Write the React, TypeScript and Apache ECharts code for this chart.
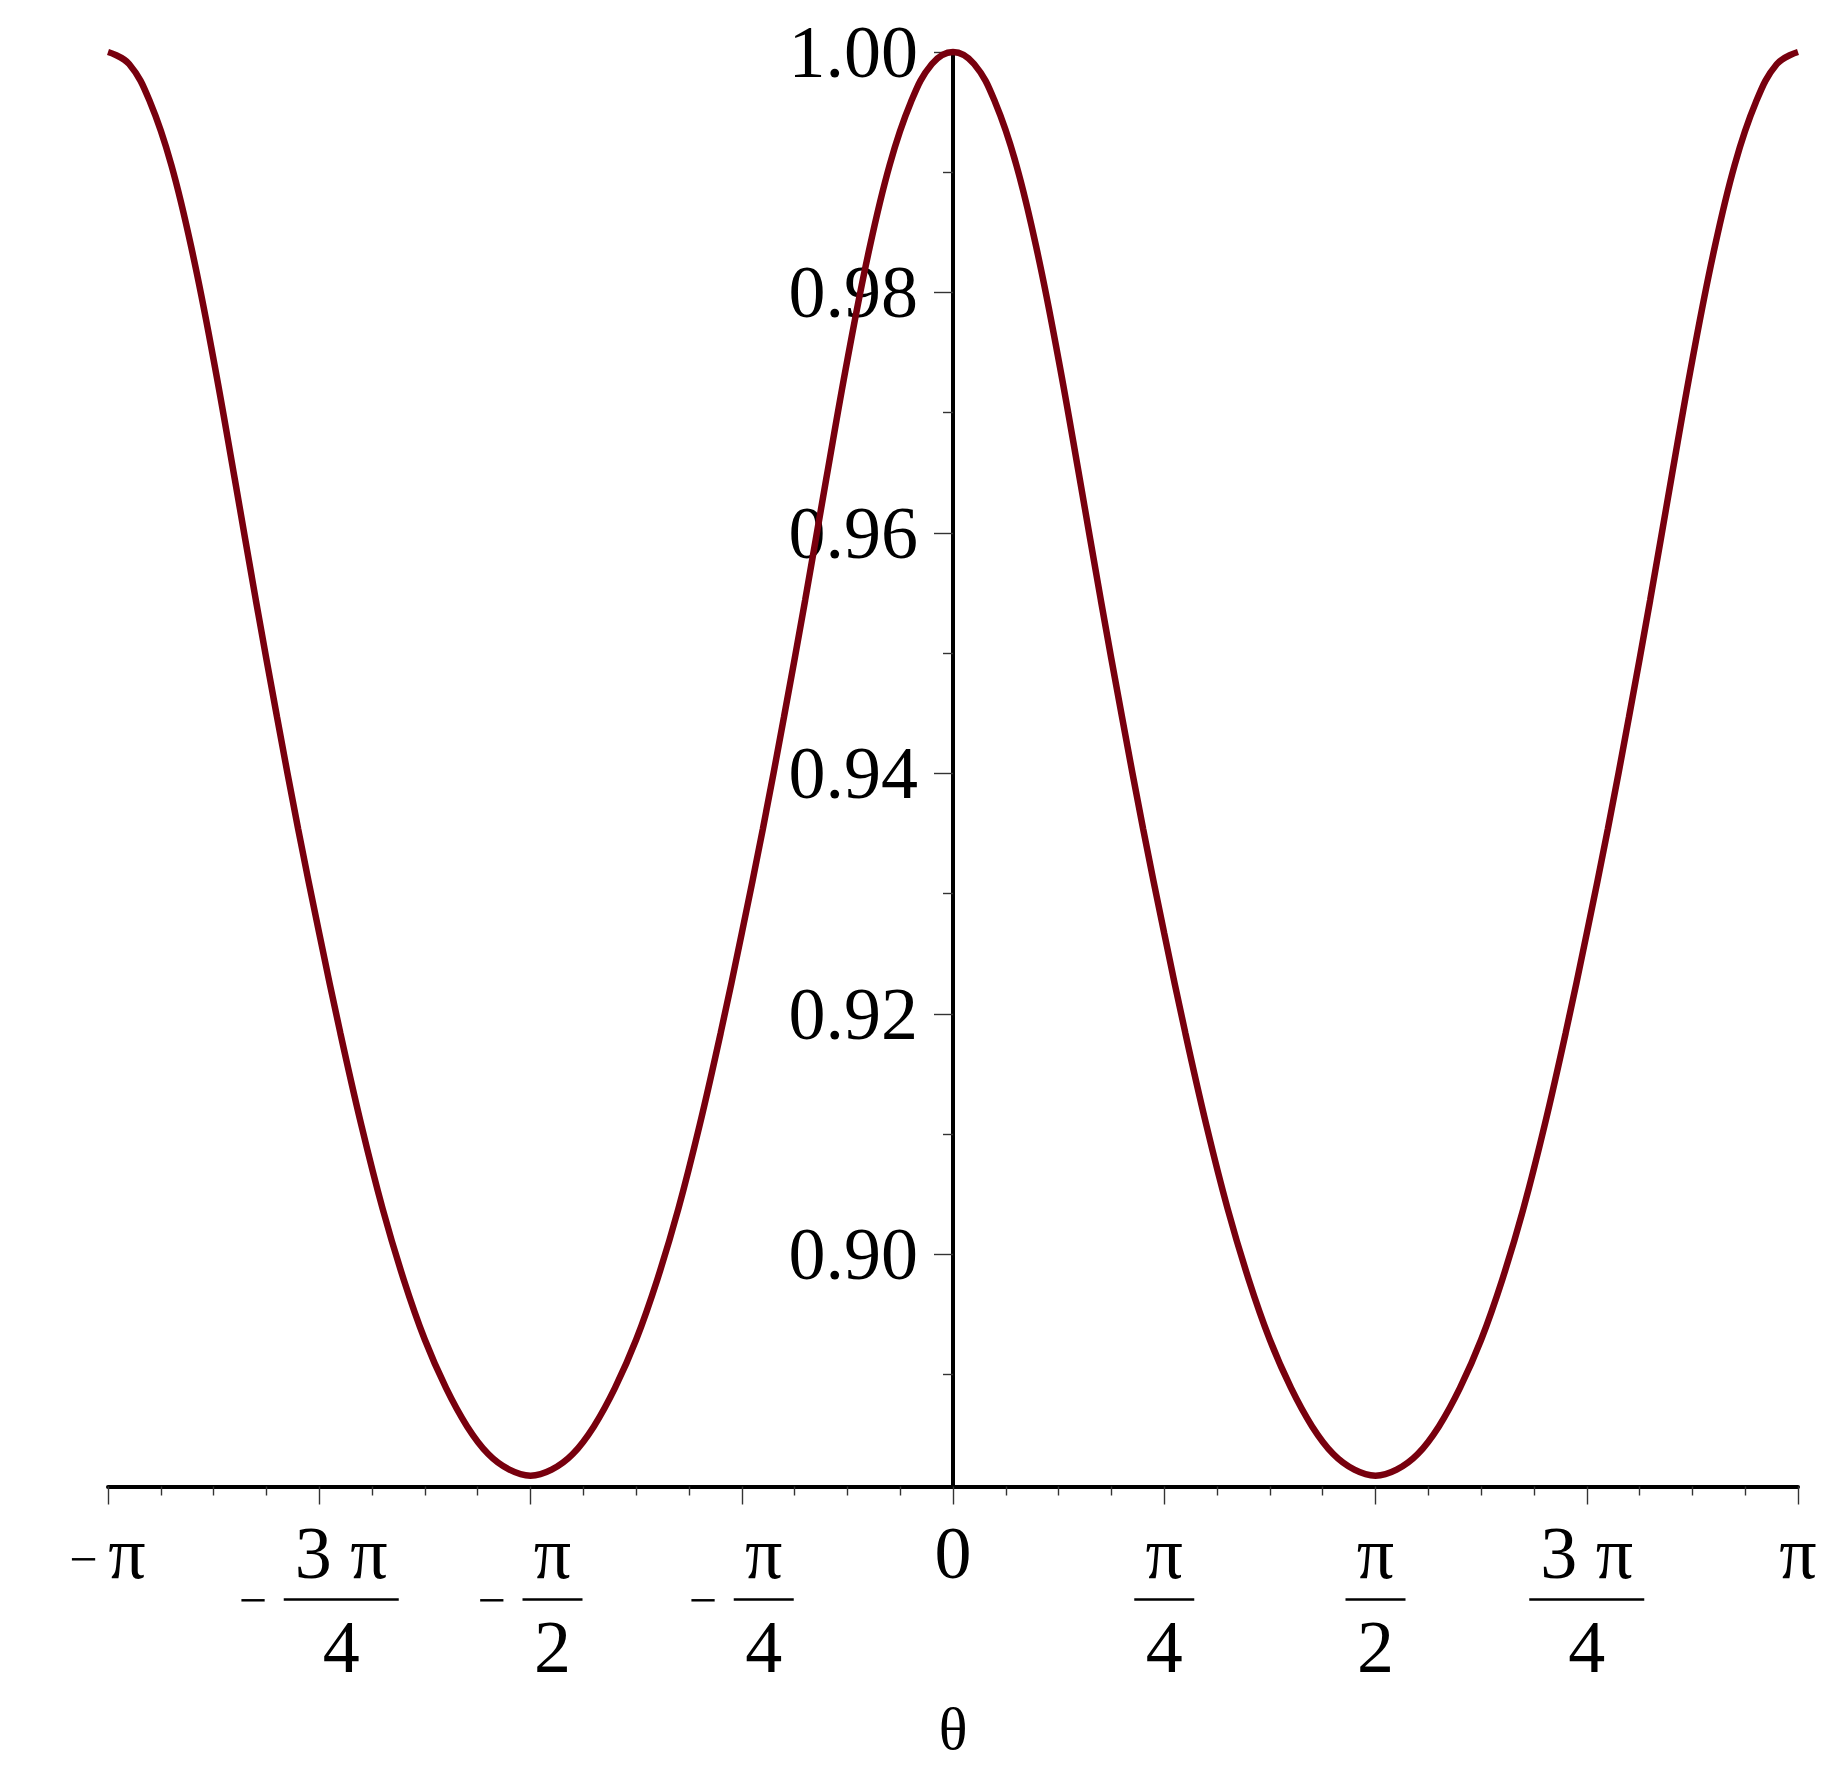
import React, { useEffect, useRef } from 'react';
import * as echarts from 'echarts';

const thetaOverPi = [
  -1, -0.975, -0.95, -0.925, -0.9, -0.875, -0.85, -0.825, -0.8, -0.775,
  -0.75, -0.725, -0.7, -0.675, -0.65, -0.625, -0.6, -0.575, -0.55, -0.525, -0.5,
  -0.475, -0.45, -0.425, -0.4, -0.375, -0.35, -0.325, -0.3, -0.275, -0.25,
  -0.225, -0.2, -0.175, -0.15, -0.125, -0.1, -0.075, -0.05, -0.025, 0,
  0.025, 0.05, 0.075, 0.1, 0.125, 0.15, 0.175, 0.2, 0.225, 0.25,
  0.275, 0.3, 0.325, 0.35, 0.375, 0.4, 0.425, 0.45, 0.475, 0.5,
  0.525, 0.55, 0.575, 0.6, 0.625, 0.65, 0.675, 0.7, 0.725, 0.75,
  0.775, 0.8, 0.825, 0.85, 0.875, 0.9, 0.925, 0.95, 0.975, 1,
];

// curve values read at those θ
const curveValues = [
  1.0, 0.999, 0.9958, 0.9906, 0.9833, 0.9744, 0.9645, 0.9544, 0.9447, 0.9354,
  0.9267, 0.9184, 0.9107, 0.9038, 0.8979, 0.8929, 0.8889, 0.8857, 0.8834, 0.8821, 0.8816,
  0.8821, 0.8834, 0.8857, 0.8889, 0.8929, 0.8979, 0.9038, 0.9107, 0.9184, 0.9267,
  0.9354, 0.9447, 0.9544, 0.9645, 0.9744, 0.9833, 0.9906, 0.9958, 0.999, 1.0,
  0.999, 0.9958, 0.9906, 0.9833, 0.9744, 0.9645, 0.9544, 0.9447, 0.9354, 0.9267,
  0.9184, 0.9107, 0.9038, 0.8979, 0.8929, 0.8889, 0.8857, 0.8834, 0.8821, 0.8816,
  0.8821, 0.8834, 0.8857, 0.8889, 0.8929, 0.8979, 0.9038, 0.9107, 0.9184, 0.9267,
  0.9354, 0.9447, 0.9544, 0.9645, 0.9744, 0.9833, 0.9906, 0.9958, 0.999, 1.0,
];

// x tick labels (value in units of π)
const xTickValues = [-1, -0.75, -0.5, -0.25, 0, 0.25, 0.5, 0.75, 1];
const xTickSign = ['−', '−', '−', '−', '', '', '', '', ''];
const xTickNumerator = ['π', '3 π', 'π', 'π', '0', 'π', 'π', '3 π', 'π'];
const xTickDenominator = ['', '4', '2', '4', '', '4', '2', '4', ''];

// y ticks
const yLabelValues = [0.9, 0.92, 0.94, 0.96, 0.98, 1.0];
const yMinorValues = [0.89, 0.91, 0.93, 0.95, 0.97, 0.99];
const yMin = 0.8807;
const yMax = 1.0;

const FONT = '"Liberation Serif", "Times New Roman", serif';
const CURVE_COLOR = '#78000E';

// grid edges (px)
const GRID_LEFT = 108;
const GRID_RIGHT = 50;
const CHART_W = 1848;
const CHART_H = 1768;
// pixel distance from the grid's left edge to θ = 0
const Y_AXIS_SHIFT = (CHART_W - GRID_LEFT - GRID_RIGHT) / 2;

function xLabel(v: number): string {
  const i = xTickValues.findIndex((t) => Math.abs(t - v) < 1e-6);
  if (i < 0) return '';
  const sign = xTickSign[i];
  const num = xTickNumerator[i];
  const den = xTickDenominator[i];
  if (!den) {
    return (sign ? '{mi1|' + sign + '}{sg|}' : '') + '{txt|' + num + '}';
  }
  const w = num.length > 1 ? 'W' : 'N';
  const lead = sign ? '{pad|}' : '';
  return (
    lead + '{num' + w + '|' + num + '}\n' +
    (sign ? '{mi|' + sign + '}{gap|}' : '') + '{bar' + w + '|}\n' +
    lead + '{den' + w + '|' + den + '}'
  );
}

export default function App() {
  const ref = useRef<HTMLDivElement>(null);

  useEffect(() => {
    if (!ref.current) return;
    const chart = echarts.init(ref.current, null, { renderer: 'svg' });
    const tickStyle = { color: '#333', width: 1.4 };
    const textBase = { fontFamily: FONT, color: '#000' };
    chart.setOption({
      animation: false,
      backgroundColor: '#fff',
      grid: {
        left: GRID_LEFT,
        right: GRID_RIGHT,
        top: 52,
        bottom: 281.5,
        containLabel: false,
        outerBoundsMode: 'none',
      },
      xAxis: {
        type: 'value',
        min: -1,
        max: 1,
        interval: 0.25,
        name: 'θ',
        nameLocation: 'middle',
        nameGap: 212,
        nameTextStyle: { ...textBase, fontSize: 60, lineHeight: 60 },
        axisLine: { show: true, onZero: false, lineStyle: { color: '#000', width: 4 } },
        axisTick: { show: true, length: 18, lineStyle: tickStyle },
        minorTick: { show: true, splitNumber: 4, length: 9, lineStyle: tickStyle },
        splitLine: { show: false },
        minorSplitLine: { show: false },
        axisLabel: {
          show: true,
          margin: 36,
          showMinLabel: true,
          showMaxLabel: true,
          formatter: (v: number) => xLabel(v),
          ...textBase,
          fontSize: 74,
          rich: {
            txt: { ...textBase, fontSize: 74, lineHeight: 60 },
            mi1: { ...textBase, fontSize: 50, lineHeight: 34, width: 26, align: 'center', padding: [12, 0, 0, 0] },
            mi: { ...textBase, fontSize: 50, lineHeight: 34, width: 26, align: 'center' },
            sg: { width: 12, lineHeight: 34 },
            pad: { width: 44, lineHeight: 34 },
            gap: { width: 18, lineHeight: 34 },
            numW: { ...textBase, fontSize: 74, lineHeight: 60, width: 115, align: 'center' },
            numN: { ...textBase, fontSize: 74, lineHeight: 60, width: 60, align: 'center' },
            denW: { ...textBase, fontSize: 74, lineHeight: 60, width: 115, align: 'center' },
            denN: { ...textBase, fontSize: 74, lineHeight: 60, width: 60, align: 'center' },
            barW: { width: 115, height: 2.5, lineHeight: 34, backgroundColor: '#000' },
            barN: { width: 60, height: 2.5, lineHeight: 34, backgroundColor: '#000' },
          },
        },
      },
      yAxis: [
        {
          type: 'value',
          min: yMin,
          max: yMax,
          position: 'left',
          offset: -Y_AXIS_SHIFT,
          axisLine: { show: true, onZero: false, lineStyle: { color: '#000', width: 4 } },
          axisTick: { show: true, length: 19, lineStyle: tickStyle, customValues: yLabelValues },
          splitLine: { show: false },
          axisLabel: {
            show: true,
            margin: 35,
            customValues: yLabelValues,
            formatter: (v: number) => v.toFixed(2),
            ...textBase,
            fontSize: 74,
          },
        },
        {
          type: 'value',
          min: yMin,
          max: yMax,
          position: 'right',
          offset: -Y_AXIS_SHIFT,
          axisLine: { show: false, onZero: false },
          axisTick: { show: true, inside: true, length: 10, lineStyle: tickStyle, customValues: yMinorValues },
          splitLine: { show: false },
          axisLabel: { show: false },
        },
      ],
      series: [
        {
          type: 'line',
          xAxisIndex: 0,
          yAxisIndex: 0,
          data: thetaOverPi.map((t, i) => [t, curveValues[i]]),
          showSymbol: false,
          smooth: 0.4,
          clip: false,
          lineStyle: { color: CURVE_COLOR, width: 6.5 },
          z: 3,
        },
      ],
    });
    return () => chart.dispose();
  }, []);

  return (
    <div
      ref={ref}
      style={{ position: 'absolute', left: 0, top: 0, width: CHART_W, height: CHART_H, background: '#fff' }}
    />
  );
}
